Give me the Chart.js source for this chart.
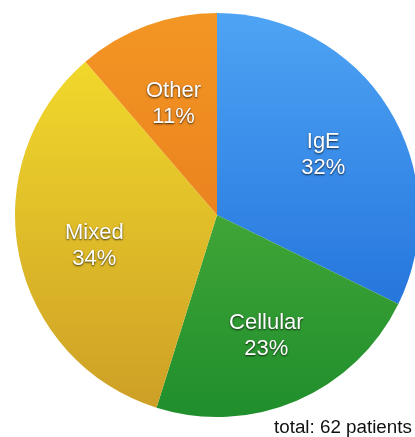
<!DOCTYPE html>
<html>
<head>
<meta charset="utf-8">
<script src="https://cdn.jsdelivr.net/npm/chart.js@4/dist/chart.umd.min.js"></script>
<style>
  html, body { margin: 0; padding: 0; background: #fff; overflow: hidden; width: 415px; height: 437px; }
  #wrap { position: absolute; left: 0; top: 0; width: 434px; height: 437px; }
  #total { position: absolute; left: 274px; top: 416px; font-family: "Liberation Sans", Arial, sans-serif; font-size: 18.8px; color: #111; white-space: nowrap; }
</style>
</head>
<body>
<div id="wrap"><canvas id="c" width="434" height="437"></canvas></div>
<div id="total">total: 62 patients</div>
<script>
const categories = ["IgE", "Cellular", "Mixed", "Other"];
const patients = [20, 14, 21, 7];
const percentLabels = ["32%", "23%", "34%", "11%"];
const topColors = ["#4ea4f4", "#62bc42", "#f6e02c", "#f39624"];
const bottomColors = ["#1664d4", "#1f8e2c", "#cc9e26", "#e2701a"];

function sliceFill(ctx) {
  const chart = ctx.chart;
  const area = chart.chartArea;
  if (!area) return topColors[ctx.dataIndex];
  const g = chart.ctx.createLinearGradient(0, area.top, 0, area.bottom);
  g.addColorStop(0, topColors[ctx.dataIndex]);
  g.addColorStop(1, bottomColors[ctx.dataIndex]);
  return g;
}

const labelPlugin = {
  id: "sliceLabels",
  afterDatasetsDraw(chart) {
    const meta = chart.getDatasetMeta(0);
    const c = chart.ctx;
    c.save();
    c.font = "22px 'Liberation Sans', Arial, sans-serif";
    c.textAlign = "center";
    c.textBaseline = "middle";
    meta.data.forEach((arc, i) => {
      const mid = (arc.startAngle + arc.endAngle) / 2;
      const r = arc.outerRadius * 0.62;
      const x = arc.x + Math.cos(mid) * r;
      const y = arc.y + Math.sin(mid) * r + 6;
      const lines = [categories[i], percentLabels[i]];
      lines.forEach((t, k) => {
        const ly = y + (k - 0.5) * 26;
        c.shadowColor = "rgba(0,0,0,0.75)";
        c.shadowBlur = 2;
        c.shadowOffsetX = 0;
        c.shadowOffsetY = 1;
        c.fillStyle = "#ffffff";
        c.fillText(t, x, ly);
      });
    });
    c.restore();
  }
};

new Chart(document.getElementById("c"), {
  type: "pie",
  data: {
    labels: categories,
    datasets: [{
      data: patients,
      backgroundColor: sliceFill,
      borderWidth: 0
    }]
  },
  options: {
    responsive: false,
    animation: false,
    layout: { padding: { left: 15, top: 13, right: 15, bottom: 20 } },
    plugins: { legend: { display: false }, tooltip: { enabled: false } }
  },
  plugins: [labelPlugin]
});
</script>
</body>
</html>
